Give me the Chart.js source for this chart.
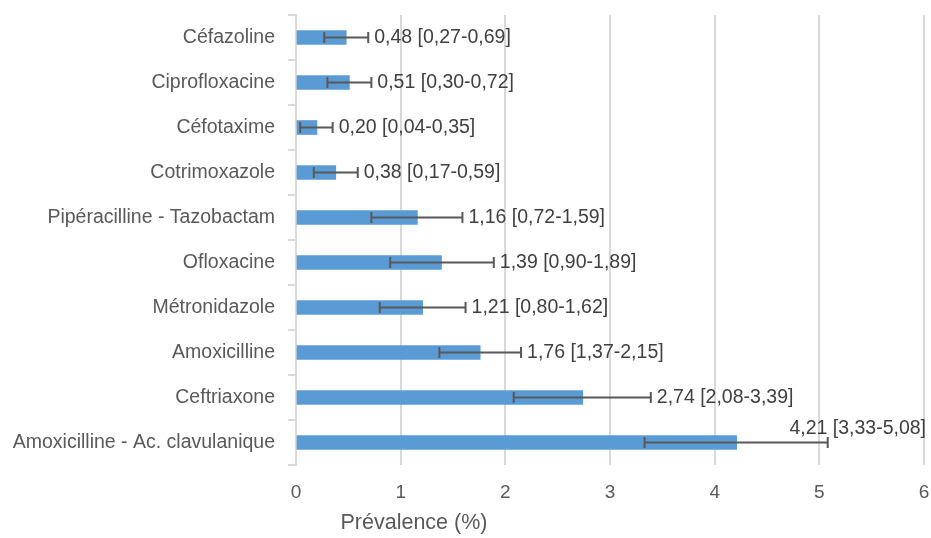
<!DOCTYPE html>
<html>
<head>
<meta charset="utf-8">
<script src="https://cdn.jsdelivr.net/npm/chart.js@4.4.1/dist/chart.umd.min.js"></script>
<style>
  body { margin: 0; background: #fff; }
</style>
</head>
<body>
<canvas id="myChart" width="931" height="538"></canvas>
<script>
(function () {
    "use strict";

    const antibiotics = [
        'Céfazoline', 'Ciprofloxacine', 'Céfotaxime', 'Cotrimoxazole',
        'Pipéracilline - Tazobactam', 'Ofloxacine', 'Métronidazole',
        'Amoxicilline', 'Ceftriaxone', 'Amoxicilline - Ac. clavulanique'
    ];
    const prevalence = [0.48, 0.51, 0.20, 0.38, 1.16, 1.39, 1.21, 1.76, 2.74, 4.21];
    const ciLow = [0.27, 0.30, 0.04, 0.17, 0.72, 0.90, 0.80, 1.37, 2.08, 3.33];
    const ciHigh = [0.69, 0.72, 0.35, 0.59, 1.59, 1.89, 1.62, 2.15, 3.39, 5.08];
    const xTicks = [0, 1, 2, 3, 4, 5, 6];

    const textColor = '#595959';
    const fontFamily = "'Liberation Sans', Arial, sans-serif";

    // french decimal comma
    function fr(v) {
        return v.toFixed(2).replace('.', ',');
    }

    // error bars + value labels drawn after the bars
    const errorBarsPlugin = {
        id: 'errorBars',
        afterDatasetsDraw(chart) {
            const ctx = chart.ctx;
            const xScale = chart.scales.x;
            const meta = chart.getDatasetMeta(0);
            const area = chart.chartArea;
            ctx.save();
            ctx.strokeStyle = '#595959';
            ctx.lineWidth = 2;
            meta.data.forEach(function (bar, i) {
                const y = bar.y;
                const x1 = xScale.getPixelForValue(ciLow[i]);
                const x2 = xScale.getPixelForValue(ciHigh[i]);
                ctx.beginPath();
                ctx.moveTo(x1, y);
                ctx.lineTo(x2, y);
                ctx.moveTo(x1, y - 5.5);
                ctx.lineTo(x1, y + 5.5);
                ctx.moveTo(x2, y - 5.5);
                ctx.lineTo(x2, y + 5.5);
                ctx.stroke();

                const label = fr(prevalence[i]) + ' [' + fr(ciLow[i]) + '-' + fr(ciHigh[i]) + ']';
                ctx.font = '19.5px ' + fontFamily;
                ctx.fillStyle = '#404040';
                ctx.textBaseline = 'middle';
                const w = ctx.measureText(label).width;
                if (x2 + 7 + w > area.right + 4) {
                    ctx.textAlign = 'right';
                    ctx.fillText(label, area.right + 2, y - 14);
                } else {
                    ctx.textAlign = 'left';
                    ctx.fillText(label, x2 + 6, y);
                }
            });

            // axis title (placed left of centre like the original)
            ctx.font = '21.5px ' + fontFamily;
            ctx.fillStyle = textColor;
            ctx.textAlign = 'center';
            ctx.textBaseline = 'middle';
            ctx.fillText('Prévalence (%)', 414, 523);
            ctx.restore();
        }
    };

    let ctx = document.getElementById('myChart').getContext('2d');
    let chart = new Chart(ctx, {
        type: 'bar',
        data: {
            labels: antibiotics,
            datasets: [
                {
                    label: 'Prévalence',
                    data: prevalence,
                    backgroundColor: '#5B9BD5',
                    borderWidth: 0,
                    barThickness: 14
                }
            ]
        },
        options: {
            indexAxis: 'y',
            responsive: false,
            animation: false,
            layout: {
                padding: { top: 15, right: 7, left: 0, bottom: 0 }
            },
            plugins: {
                legend: { display: false },
                tooltip: { enabled: false }
            },
            scales: {
                x: {
                    min: xTicks[0],
                    max: xTicks[xTicks.length - 1],
                    afterBuildTicks: function (scale) {
                        scale.ticks = xTicks.map(function (v) { return { value: v }; });
                    },
                    grid: {
                        color: '#d9d9d9',
                        lineWidth: 2,
                        drawTicks: false
                    },
                    border: { display: false },
                    ticks: {
                        color: textColor,
                        font: { family: fontFamily, size: 19 },
                        padding: 16
                    },
                    afterFit: function (scale) {
                        scale.height = 73;
                        scale.paddingLeft = 0;
                        scale.paddingRight = 0;
                    }
                },
                y: {
                    grid: {
                        color: '#d9d9d9',
                        lineWidth: 2,
                        drawOnChartArea: false,
                        drawTicks: true,
                        tickLength: 8,
                        offset: true
                    },
                    border: { display: true, color: '#d9d9d9', width: 2 },
                    ticks: {
                        color: textColor,
                        font: { family: fontFamily, size: 19.5 },
                        padding: 13
                    },
                    afterFit: function (scale) {
                        scale.width = 296;
                        scale.paddingTop = 0;
                        scale.paddingBottom = 0;
                    }
                }
            }
        },
        plugins: [errorBarsPlugin]
    });
})();
</script>
</body>
</html>
